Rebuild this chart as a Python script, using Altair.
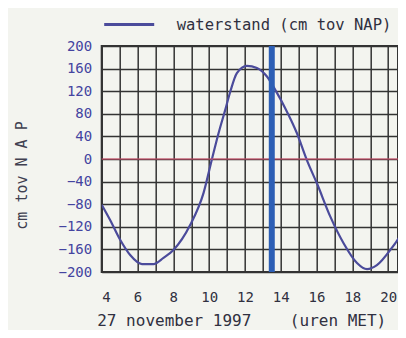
import altair as alt
import pandas as pd

hours = [4.0, 4.47, 5.03, 5.59, 6.25, 6.89, 7.45, 8.01, 8.94, 9.69, 10.16, 10.53,
         10.9, 11.18, 11.55, 12.11, 12.67, 13.23, 13.79, 14.25, 14.9, 15.46, 16.02,
         16.77, 17.51, 18.26, 18.82, 19.37, 20.12, 20.84, 21.0]
levels = [-81, -108, -143, -170, -186, -186, -175, -161, -117, -60, 0, 46,
          87, 119, 152, 165, 161, 146, 117, 90, 46, -2, -43,
          -102, -149, -184, -195, -188, -161, -126, -115]
series_name = "waterstand (cm tov NAP)"
now_hour = [13.5]
zero_level = [0]
x_ticks = list(range(4, 21))
y_ticks = list(range(-200, 201, 40))

FONT = "DejaVu Sans Mono"
NB = "\u00a0"

df = pd.DataFrame({"uur": hours, "stand": levels, "serie": [series_name] * len(hours)})

x_scale = alt.Scale(domain=[4, 20.55], nice=False, zero=False)
y_scale = alt.Scale(domain=[-200, 200], nice=False)

x_axis = alt.Axis(
    values=x_ticks, labelExpr="datum.value % 2 == 0 ? datum.label : ''",
    labelOverlap=False, tickCount=17,
    ticks=False, domain=False, grid=True, gridColor="#333333", gridWidth=1.5,
    labelFont=FONT, labelFontSize=14, labelColor="#303040", labelPadding=18,
    title="27 november 1997" + NB * 4 + "(uren MET)", titleFont=FONT, titleFontSize=16,
    titleFontWeight="normal", titleColor="#303040", titlePadding=8, titleX=139.5,
)
y_axis = alt.Axis(
    values=y_ticks, labelOverlap=False, tickCount=11,
    ticks=False, domain=False, grid=True, gridColor="#333333",
    gridWidth=1.5, labelFont=FONT, labelFontSize=14, labelColor="#4444a0",
    labelPadding=10, title="cm tov N A P", titleFont=FONT, titleFontSize=15,
    titleFontWeight="normal", titleColor="#404050", titleAngle=-90,
    titleX=-80, titleY=129, titleAlign="center", titleBaseline="middle",
)

line = alt.Chart(df).mark_line(strokeWidth=2.2, interpolate="monotone", clip=True).encode(
    x=alt.X("uur:Q", scale=x_scale, axis=x_axis),
    y=alt.Y("stand:Q", scale=y_scale, axis=y_axis),
    color=alt.Color(
        "serie:N",
        scale=alt.Scale(range=["#4b4b9b"]),
        legend=alt.Legend(
            title=None, orient="none", legendX=1, legendY=-48,
            symbolType="stroke", symbolSize=2500, symbolStrokeWidth=3,
            labelFont=FONT, labelFontSize=15.5, labelColor="#303040",
            labelOffset=21, labelLimit=400,
        ),
    ),
)

zero = alt.Chart(pd.DataFrame({"v": zero_level})).mark_rule(
    color="#e05070", strokeWidth=1.2
).encode(y=alt.Y("v:Q", scale=y_scale, axis=y_axis))

bar = alt.Chart(pd.DataFrame({"t": now_hour})).mark_rule(
    color="#2d5fb5", strokeWidth=6
).encode(x=alt.X("t:Q", scale=x_scale, axis=x_axis))

chart = alt.layer(line, zero, bar).properties(
    width=296.3, height=226,
    autosize=alt.AutoSizeParams(type="none"),
    padding={"left": 93.7, "top": 38, "right": 0, "bottom": 58},
    background="#f3f4ef",
).configure_view(stroke="#333333", strokeWidth=2)

chart.save("out.html", embed_options={"renderer": "svg", "actions": False})
